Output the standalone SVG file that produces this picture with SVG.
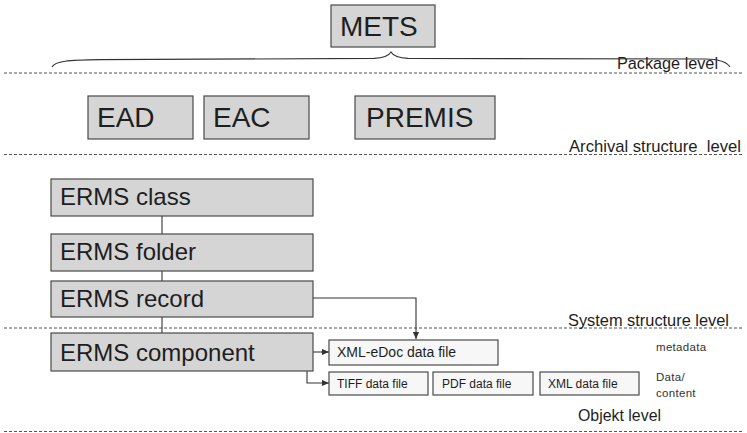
<svg xmlns="http://www.w3.org/2000/svg" width="747" height="433" viewBox="0 0 747 433">
<style>
.box{fill:#d5d5d5;stroke:#4a4a4a;stroke-width:1.2}
.fbox{fill:#f7f7f7;stroke:#4a4a4a;stroke-width:1.2}
.big{font-family:"Liberation Sans",Arial,sans-serif;font-size:28px;fill:#1e1e1e}
.mid{font-family:"Liberation Sans",Arial,sans-serif;font-size:24px;fill:#1e1e1e}
.lvl{font-family:"Liberation Sans",Arial,sans-serif;font-size:17px;fill:#1e1e1e}
.sm{font-family:"Liberation Sans",Arial,sans-serif;font-size:14px;fill:#1e1e1e}
.xs{font-family:"Liberation Sans",Arial,sans-serif;font-size:12px;fill:#1e1e1e}
.note{font-family:"Liberation Sans",Arial,sans-serif;font-size:11.5px;fill:#333;letter-spacing:0.3px}
.dash{stroke:#555;stroke-width:1.2;stroke-dasharray:3,2;fill:none}
.con{stroke:#333;stroke-width:1.1;fill:none}
</style>
<defs>
<marker id="ah" viewBox="0 0 8 8" refX="8" refY="4" markerWidth="7" markerHeight="7" orient="auto" markerUnits="userSpaceOnUse">
<path d="M0,0.5 L8,4 L0,7.5 Z" fill="#333"/>
</marker>
</defs>
<rect width="747" height="433" fill="#ffffff"/>

<g id="levels">
<line class="dash" x1="4" y1="73" x2="742" y2="73"/>
<line class="dash" x1="4" y1="154.5" x2="742" y2="154.5"/>
<line class="dash" x1="4" y1="328" x2="742" y2="328"/>
<line class="dash" x1="4" y1="431.5" x2="742" y2="431.5"/>
<text class="lvl" x="617" y="69" style="font-size:16px" textLength="101" lengthAdjust="spacingAndGlyphs">Package level</text>
<text class="lvl" x="569" y="152" textLength="172" lengthAdjust="spacingAndGlyphs" xml:space="preserve">Archival structure  level</text>
<text class="lvl" x="568" y="326" textLength="161" lengthAdjust="spacingAndGlyphs">System structure level</text>
<text class="lvl" x="578" y="421" textLength="83" lengthAdjust="spacingAndGlyphs">Objekt level</text>
<text class="note" x="656" y="351">metadata</text>
<text class="note" x="656" y="381">Data/</text>
<text class="note" x="656" y="397">content</text>
</g>

<g id="mets">
<rect class="box" x="331" y="5" width="104" height="42"/>
<text class="big" x="340" y="36">METS</text>
</g>
<g id="brace">
<path class="con" d="M52,67 C55,61 68,60 100,59.6 L374,58.4 C384,58 389,55.5 391,52 C393,55.5 398,58 408,58.4 L705,59 C720,59.2 727,62 730,67"/>
</g>

<g id="ead">
<rect class="box" x="88" y="96" width="105" height="43"/>
<text class="big" x="97" y="127">EAD</text>
</g>
<g id="eac">
<rect class="box" x="204" y="96" width="105" height="43"/>
<text class="big" x="213" y="127">EAC</text>
</g>
<g id="premis">
<rect class="box" x="355" y="96" width="140" height="43"/>
<text class="big" x="366" y="127">PREMIS</text>
</g>

<g id="connectors">
<line class="con" x1="162" y1="216" x2="162" y2="234"/>
<line class="con" x1="162" y1="271" x2="162" y2="281"/>
<line class="con" x1="162" y1="317" x2="162" y2="333"/>
<polyline class="con" points="313,298 416,298 416,339" marker-end="url(#ah)"/>
<line class="con" x1="313" y1="352" x2="329" y2="352" marker-end="url(#ah)"/>
<polyline class="con" points="307,371 307,383 329,383" marker-end="url(#ah)"/>
</g>

<g id="erms-class">
<rect class="box" x="51" y="179" width="262" height="37"/>
<text class="mid" x="60" y="205">ERMS class</text>
</g>
<g id="erms-folder">
<rect class="box" x="51" y="234" width="262" height="37"/>
<text class="mid" x="60" y="260">ERMS folder</text>
</g>
<g id="erms-record">
<rect class="box" x="51" y="281" width="262" height="36"/>
<text class="mid" x="60" y="307">ERMS record</text>
</g>
<g id="erms-component">
<rect class="box" x="51" y="333" width="262" height="38"/>
<text class="mid" x="60" y="361">ERMS component</text>
</g>

<g id="xml-edoc">
<rect class="fbox" x="329" y="340" width="169" height="25"/>
<text class="sm" x="337" y="357">XML-eDoc data file</text>
</g>
<g id="tiff">
<rect class="fbox" x="329" y="372" width="99" height="23"/>
<text class="xs" x="337" y="388">TIFF data file</text>
</g>
<g id="pdf">
<rect class="fbox" x="433" y="372" width="100" height="23"/>
<text class="xs" x="442" y="388">PDF data file</text>
</g>
<g id="xml">
<rect class="fbox" x="540" y="372" width="99" height="23"/>
<text class="xs" x="548" y="388">XML data file</text>
</g>
</svg>
